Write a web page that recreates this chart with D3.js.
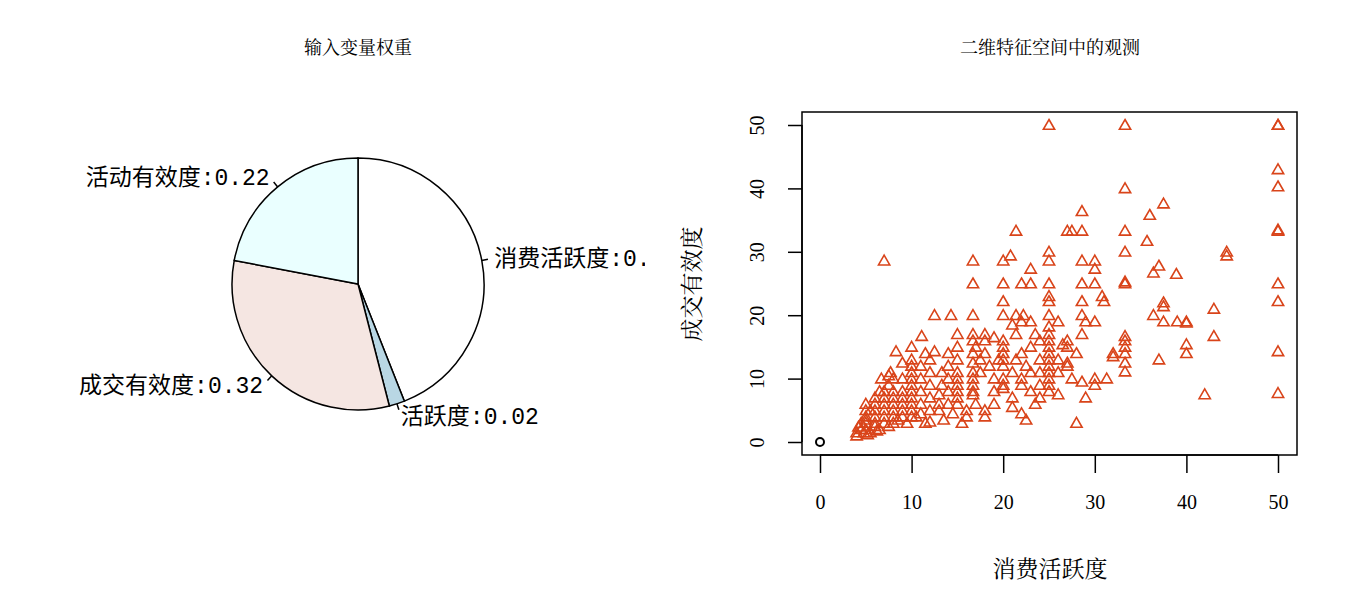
<!DOCTYPE html>
<html><head><meta charset="utf-8">
<script src="https://cdn.jsdelivr.net/npm/d3@7"></script>
<style>body{margin:0;background:#fff}text{font-family:"Liberation Serif","Noto Serif CJK SC","Noto Sans CJK SC",serif}</style>
</head><body><svg id="c" width="1356" height="602"></svg>
<script>
const pieLabels = ["消费活跃度", "活跃度", "成交有效度", "活动有效度"];
const pieWeights = [0.44, 0.02, 0.32, 0.22];
const pieColors = ["#ffffff", "#b9d7e4", "#f5e6e2", "#eaffff"];
const xTicks = [0, 10, 20, 30, 40, 50];
const yTicks = [0, 10, 20, 30, 40, 50];
const points = [
[25,50],[33.3,50],[50,50],[50,50],[50,43],[50,40.3],[33.3,40],[37.5,37.6],[36,35.8],[28.6,36.4],
[50,33.3],[50,33.5],[33.3,33.3],[27,33.3],[27.5,33.3],[28.6,33.3],[21.4,33.3],[16.7,28.6],[16.7,25],
[20,28.6],[20.8,29.4],[25,30],[25,28.6],[28.6,28.6],[30,28.6],[33.3,30],[35.7,31.7],[7,28.6],
[44.4,30],[44.4,29.4],[20,25],[22,25],[23,25],[25,25],[23,27.3],[28.6,25],[30,27.3],[36.4,26.7],
[37,27.8],[38.9,26.5],[33.3,25],[33.3,25.3],[50,25],[30,25],[20,22.2],[20,20],[25,23],[25,22.2],
[28.6,22.2],[30.8,23],[31,22.2],[37.5,22],[37.5,21.4],[43,21],[50,22.2],[12.5,20],[14.3,20],
[16.7,20],[21.4,20],[22.2,20],[25,20],[25,18.2],[28.6,20],[30,19],[36.4,20],[37.5,19],[39,19],
[40,19],[40,18.8],[43,16.7],[50,14.3],[40,15.4],[40,14],[37,13],[50,7.7],[42,7.5],[30,10],
[31.3,10],[28,3],[33.3,16.7],[33.3,16],[33.3,15],[33.3,14],[33.3,12.5],[33.3,11.1],[32,14],[32,13.5],
[27,16],[27,15],[28,14],[28.6,17],[29,19],[26,19],[26.5,15.4],[25,17],[25,16],[25,15],[25,14],
[25,13],[25,12],[25,11],[25,10],[25,9],[25,8],[26,11],[27,12.5],[27.5,10],[28.6,9.5],[29,7],
[30,9],[26,7.5],[23,8],[24,9],[22,10],[21,11],[20,12],[20,13],[20,14],[20,15],[20,16],[20,10],
[20,9],[20,8.5],[21.4,13],[22,14],[22.5,12],[23,15],[23.5,17],[24,13],[21.4,17],[21,18.5],
[22,19],[18,17],[18,16],[17,15],[16.7,17],[16.7,16],[16.7,14],[16.7,12.5],[16.7,11],[16.7,10],
[16.7,9],[16.7,8],[16.7,7.5],[17,6],[18,5],[18,4],[19,6],[19,8],[19,10],[19.5,13],[18.5,12],
[17.5,11],[21,7],[21,5.5],[22,4.5],[23.5,6],[24,7],[22.5,3.5],[15,17],[15,15],[15,13],[15,11],
[15,10],[15,9],[15,8],[15,7],[15,6],[14,14],[14,12],[14,10],[14,8],[14,6],[13.3,11],[13.3,9],
[13,7.5],[13,6],[13,5],[12.5,14.3],[12,13],[12,11],[12,9],[12,7],[12,5],[11.1,16.7],[11,12],
[11,10],[11,8],[11,6],[11,4.5],[10,15],[10,13],[10,12],[10,11],[10,10],[10,9],[10,8],[10,7],
[10,6],[10,5],[10,4],[9,12.5],[9,10],[9,8],[9,7],[9,6],[9,5],[9,4],[8.3,14.3],[8,10],[8,8],
[8,7],[8,6],[8,5],[8,4],[8,3],[7.7,11],[7.5,9],[7,8],[7,7],[7,6],[7,5],[7,4],[7,3],[6.7,10],
[6.5,8],[6,7],[6,6],[6,5],[6,4],[6,3],[6,2.5],[5.5,5],[5,6],[5,5],[5,4],[5,3.5],[5,3],[5,2],
[4.5,3],[4.5,2],[4,1.5],[4,1],[4.2,2.4],[5.5,1.5],[6.5,2],[7.5,2.5],[9.5,3],[11.5,3],[13.5,3.5],
[14.5,4.5],[16,5],[16,4],[15.5,3],[12,3.2],[10.5,4],[8.5,3.5],[6.2,1.8],[5.2,1.2],[4.8,1.5],
[17.5,13],[18,14],[19,16.5],[23,19],[24,16],[26,13],[27,12],[24,11],[23,11],[22,9],[11.5,14],[7.5,10.5]
];

const svg = d3.select("#c");
const color = "#d9441a";

// titles
svg.append("text").attr("x", 358).attr("y", 54).attr("text-anchor", "middle").style("font-size", "18px").text("输入变量权重");
svg.append("text").attr("x", 1050).attr("y", 54).attr("text-anchor", "middle").style("font-size", "18px").text("二维特征空间中的观测");

// pie (clockwise from top)
const cx = 358, cy = 284, r = 126;
const pie = d3.pie().sort(null).value(d => d)(pieWeights);
const arc = d3.arc().innerRadius(0).outerRadius(r);
svg.append("clipPath").attr("id", "pclip").append("rect").attr("x", 0).attr("y", 0).attr("width", 645).attr("height", 602);
const outer = svg.append("g").attr("clip-path", "url(#pclip)");
const pg = outer.append("g").attr("transform", `translate(${cx},${cy})`);
pg.selectAll("path").data(pie).enter().append("path")
    .attr("d", arc).attr("fill", (d, i) => pieColors[i]).attr("stroke", "#000").attr("stroke-width", 1.5);
pie.forEach((d, i) => {
    const a = (d.startAngle + d.endAngle) / 2;
    const dx = Math.sin(a), dy = -Math.cos(a);
    outer.append("line").attr("x1", cx + dx * r).attr("y1", cy + dy * r)
        .attr("x2", cx + dx * r * 1.05).attr("y2", cy + dy * r * 1.05).attr("stroke", "#000").attr("stroke-width", 1.5);
    outer.append("text").attr("x", cx + dx * r * 1.1).attr("y", cy + dy * r * 1.1 + 8)
        .attr("text-anchor", dx > 0 ? "start" : "end").style("font-size", "23px")
        .style("font-family", "Liberation Mono, Noto Sans CJK SC, monospace")
        .text(pieLabels[i] + ":" + pieWeights[i].toFixed(2));
});

// scatter
const x = d3.scaleLinear().domain([0, 50]).range([820, 1278]);
const y = d3.scaleLinear().domain([0, 50]).range([442, 125]);
svg.append("rect").attr("x", 802).attr("y", 112).attr("width", 495).attr("height", 343).attr("fill", "none").attr("stroke", "#000").attr("stroke-width", 1.5);

const xa = svg.append("g").attr("transform", "translate(0,455)")
    .call(d3.axisBottom(x).tickValues(xTicks).tickSize(18).tickPadding(22).tickSizeOuter(0));
const ya = svg.append("g").attr("transform", "translate(802,0)")
    .call(d3.axisLeft(y).tickValues(yTicks).tickSize(14).tickSizeOuter(0));
[xa, ya].forEach(a => {
    a.select(".domain").attr("stroke-width", 1.5);
    a.selectAll(".tick line").attr("stroke-width", 1.5);
    a.selectAll("text").style("font-size", "20px").style("font-family", "Liberation Serif, serif");
});
xa.select(".domain").attr("d", `M${x(0)},0H${x(50)}`);
ya.select(".domain").attr("d", `M0,${y(0)}V${y(50)}`);
ya.selectAll(".tick text").attr("x", 0).attr("dy", 0).attr("text-anchor", "middle")
    .attr("transform", "translate(-38,0) rotate(-90)");

svg.append("text").attr("x", 1050).attr("y", 577).attr("text-anchor", "middle").style("font-size", "23px").text("消费活跃度");
svg.append("text").attr("transform", "translate(700,284) rotate(-90)").attr("text-anchor", "middle").style("font-size", "23px").text("成交有效度");

const tri = d3.symbol().type(d3.symbolTriangle).size(55);
svg.append("g").selectAll("path").data(points).enter().append("path")
    .attr("d", tri).attr("transform", d => `translate(${x(d[0])},${y(d[1]) + 1})`)
    .attr("fill", "none").attr("stroke", color).attr("stroke-width", 1.6);
svg.append("circle").attr("cx", x(0)).attr("cy", y(0)).attr("r", 4).attr("fill", "none").attr("stroke", "#000").attr("stroke-width", 2);
</script></body></html>
